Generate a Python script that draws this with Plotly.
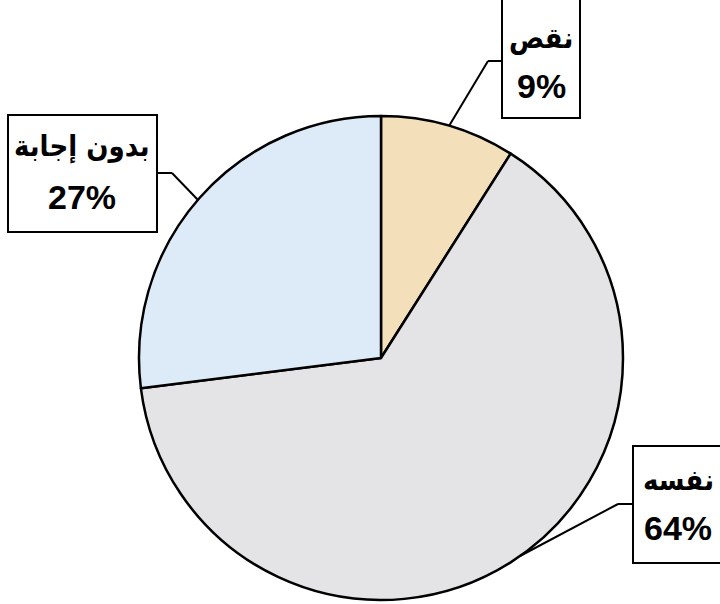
import plotly.graph_objects as go

labels = ["نقص", "نفسه", "بدون إجابة"]
values = [9, 64, 27]
pct_text = ["9%", "64%", "27%"]
colors = ["#F3DFBA", "#E4E4E6", "#DDEBF9"]

W, H = 720, 604
def px(x): return x / W
def py(y): return 1 - y / H

cx, cy, r = 381, 358, 242

fig = go.Figure(go.Pie(
    labels=labels, values=values, sort=False, direction="clockwise", rotation=0,
    marker=dict(colors=colors, line=dict(color="black", width=2.5)),
    textinfo="none", hoverinfo="label+percent", showlegend=False,
    domain=dict(x=[px(cx - r), px(cx + r)], y=[py(cy + r), py(cy - r)]),
))

# label boxes: (x0, y0, x1, y1), line1 center y, line2 center y, text center x
boxes = [
    ((502, -10, 580, 118), 38, 86, 541),
    ((633, 446, 724, 563), 480, 528, 678),
    ((8, 115, 157, 232), 147, 197, 82),
]
leaders = [
    [(503, 61), (488, 61), (449, 126)],
    [(633, 504), (618, 504), (520, 556)],
    [(157, 173), (172, 173), (198, 200)],
]

shapes = []
annotations = []
font_ar = dict(family="DejaVu Sans Condensed, DejaVu Sans", size=29, color="black")
font_num = dict(family="Liberation Sans, Arial", size=34, color="black")
for i, ((x0, y0, x1, y1), l1, l2, tx) in enumerate(boxes):
    shapes.append(dict(type="rect", xref="paper", yref="paper",
                       x0=px(x0), x1=px(x1), y0=py(y1), y1=py(y0),
                       line=dict(color="black", width=2), fillcolor="white"))
    annotations.append(dict(xref="paper", yref="paper", x=px(tx), y=py(l1),
                            text="<b>" + labels[i] + "</b>", showarrow=False,
                            xanchor="center", yanchor="middle", font=font_ar))
    annotations.append(dict(xref="paper", yref="paper", x=px(tx), y=py(l2),
                            text="<b>" + pct_text[i] + "</b>", showarrow=False,
                            xanchor="center", yanchor="middle", font=font_num))
for pts in leaders:
    for (a, b) in zip(pts[:-1], pts[1:]):
        shapes.append(dict(type="line", xref="paper", yref="paper",
                           x0=px(a[0]), y0=py(a[1]), x1=px(b[0]), y1=py(b[1]),
                           line=dict(color="black", width=2)))

fig.update_layout(width=W, height=H, margin=dict(l=0, r=0, t=0, b=0),
                  paper_bgcolor="white", plot_bgcolor="white",
                  shapes=shapes, annotations=annotations)
fig.write_html("out.html", config={"displayModeBar": False},
               post_script="document.body.style.margin='0';document.body.style.overflow='hidden';")
